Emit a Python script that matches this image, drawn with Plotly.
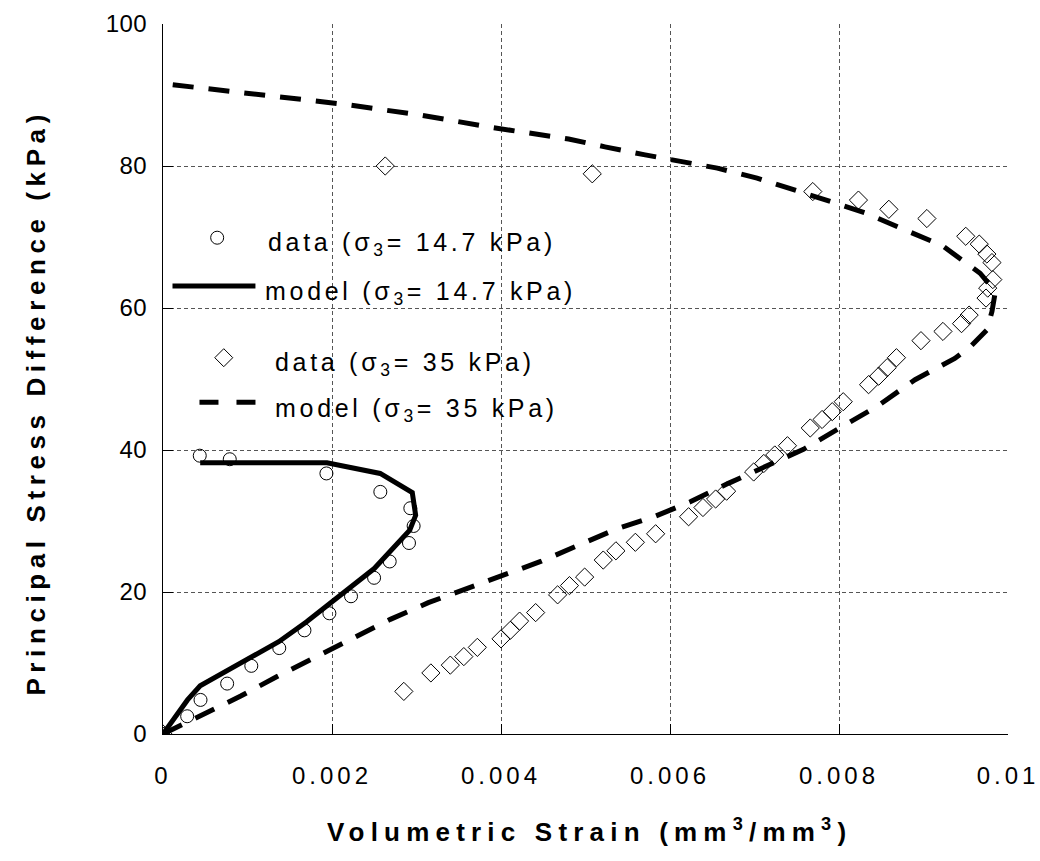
import plotly.graph_objects as go

# Measured triaxial response: volumetric strain vs principal stress difference
# Confining pressure sigma3 = 14.7 kPa, measured points
data147_strain = [0, 0.000286, 0.000444, 0.000759, 0.001045, 0.001376, 0.001674, 0.001969,
                  0.002225, 0.002498, 0.002683, 0.002911, 0.002966, 0.002927, 0.002572,
                  0.001934, 0.00079, 0.000435]
data147_stress = [0, 2.5, 4.8, 7.1, 9.6, 12.1, 14.6, 17.0, 19.4, 22.0, 24.3, 26.9, 29.3,
                  31.8, 34.1, 36.7, 38.7, 39.2]

# Model prediction, sigma3 = 14.7 kPa
model147_strain = [0, 0.00029, 0.00044, 0.00104, 0.00137, 0.00170, 0.00200, 0.00250,
                   0.00292, 0.00299, 0.00295, 0.00257, 0.00194, 0.00044]
model147_stress = [0, 4.8, 6.8, 10.7, 13.0, 15.8, 18.6, 23.3, 28.7, 30.8, 34.0, 36.7,
                   38.2, 38.2]

# Confining pressure sigma3 = 35 kPa, measured points
data35_strain = [0, 0.00285, 0.00317, 0.00340, 0.00356, 0.00372, 0.00400, 0.00411, 0.00422,
                 0.00441, 0.00467, 0.00481, 0.00499, 0.00521, 0.00536, 0.00559, 0.00583,
                 0.00622, 0.00639, 0.00654, 0.00667, 0.00699, 0.00711, 0.00724, 0.00739,
                 0.00766, 0.00780, 0.00792, 0.00805, 0.00835, 0.00847, 0.00857, 0.00868,
                 0.00897, 0.00923, 0.00945, 0.00954, 0.00974, 0.00976, 0.00982, 0.00981,
                 0.00975, 0.00966, 0.00950, 0.00904, 0.00859, 0.00823, 0.00769, 0.00508,
                 0.00263]
data35_stress = [0, 6.0, 8.6, 9.7, 10.9, 12.2, 13.4, 14.6, 15.9, 17.1, 19.6, 20.9, 22.1,
                 24.5, 25.8, 27.0, 28.2, 30.6, 31.9, 33.1, 34.2, 36.9, 38.1, 39.3, 40.6,
                 43.1, 44.3, 45.4, 46.8, 49.2, 50.4, 51.6, 53.0, 55.4, 56.7, 57.8, 59.0,
                 61.4, 62.8, 64.0, 66.4, 67.6, 69.0, 70.1, 72.6, 73.9, 75.2, 76.4, 78.9,
                 80.0]

# Model prediction, sigma3 = 35 kPa
model35_strain = [0, 0.00046, 0.00092, 0.00135, 0.00180, 0.00224, 0.00269, 0.00314,
                  0.00359, 0.00405, 0.00447, 0.00492, 0.00535, 0.00583, 0.00624, 0.00669,
                  0.00713, 0.00758, 0.00801, 0.00847, 0.00890, 0.00937, 0.00955, 0.00975,
                  0.00981, 0.00985, 0.00967, 0.00922, 0.00878, 0.00833, 0.00790, 0.00746,
                  0.00703, 0.00656, 0.00612, 0.00569, 0.00523, 0.00480, 0.00391, 0.00303,
                  0.00214, 0.00125, 0.00036, 0]
model35_stress = [0, 2.7, 5.35, 8.1, 10.75, 13.5, 16.15, 18.5, 20.4, 22.4, 24.3, 26.6,
                  28.8, 30.7, 32.7, 35.3, 37.6, 40.1, 43.1, 46.3, 49.9, 52.9, 54.5, 56.9,
                  59.5, 62.3, 64.9, 68.8, 71.0, 73.3, 75.0, 76.6, 78.3, 79.7, 80.6, 81.6,
                  82.7, 83.8, 85.4, 87.2, 88.7, 89.9, 91.0, 91.6]

x_ticks = [0, 0.002, 0.004, 0.006, 0.008, 0.01]
x_ticktext = ["0", "0.002", "0.004", "0.006", "0.008", "0.01"]
y_ticks = [0, 20, 40, 60, 80, 100]
y_ticktext = ["0", "20", "40", "60", "80", "100"]

legend_labels = [
    "data (σ<sub>3</sub>= 14.7 kPa)",
    "model (σ<sub>3</sub>= 14.7 kPa)",
    "data (σ<sub>3</sub>= 35 kPa)",
    "model (σ<sub>3</sub>= 35 kPa)",
]

FONT = "Liberation Sans, Arial, sans-serif"

# plot-area frame in pixels, used to place the in-plot key
L, R, T, B = 162.5, 1008.0, 24.0, 734.0


def px(xp):
    return (xp - L) / (R - L)


def py(yp):
    return (B - yp) / (B - T)


def spaced(text, gap):
    return f"<span style='letter-spacing:{gap}px'>{text}</span>"


fig = go.Figure()

fig.add_trace(go.Scatter(
    x=model35_strain, y=model35_stress, mode="lines",
    line=dict(color="black", width=5, dash="21px,15px"),
    showlegend=False, name="model (σ3 = 35 kPa)"))
fig.add_trace(go.Scatter(
    x=data35_strain, y=data35_stress, mode="markers",
    marker=dict(symbol="diamond-open", size=14, color="black", line=dict(width=1)),
    showlegend=False, name="data (σ3 = 35 kPa)"))
fig.add_trace(go.Scatter(
    x=model147_strain, y=model147_stress, mode="lines",
    line=dict(color="black", width=5),
    showlegend=False, name="model (σ3 = 14.7 kPa)"))
fig.add_trace(go.Scatter(
    x=data147_strain, y=data147_stress, mode="markers",
    marker=dict(symbol="circle-open", size=13, color="black", line=dict(width=1)),
    showlegend=False, name="data (σ3 = 14.7 kPa)"))

# key: symbols
shapes = [
    dict(type="circle", xref="paper", yref="paper",
         x0=px(210.2), x1=px(223.2), y0=py(244.2), y1=py(231.2),
         line=dict(color="black", width=1)),
    dict(type="line", xref="paper", yref="paper",
         x0=px(172), x1=px(255), y0=py(286), y1=py(286),
         line=dict(color="black", width=5)),
    dict(type="path", xref="paper", yref="paper",
         path="M {0},{1} L {2},{3} L {4},{5} L {6},{7} Z".format(
             px(214.3), py(357.7), px(223.3), py(348.7),
             px(232.3), py(357.7), px(223.3), py(366.7)),
         line=dict(color="black", width=1)),
    dict(type="line", xref="paper", yref="paper",
         x0=px(199), x1=px(261), y0=py(402.3), y1=py(402.3),
         line=dict(color="black", width=5, dash="19px,18px")),
]

key_pos = [(266, 241), (263, 290), (273, 361), (273, 407)]
annotations = []
for (xp, yp), label in zip(key_pos, legend_labels):
    annotations.append(dict(
        xref="paper", yref="paper", x=px(xp), y=py(yp),
        xanchor="left", yanchor="middle", yshift=-3,
        text=spaced(label, 3.7), showarrow=False,
        font=dict(family=FONT, size=25, color="black")))

# axis titles
annotations.append(dict(
    xref="paper", yref="paper", x=px(589), y=py(830),
    xanchor="center", yanchor="middle", showarrow=False,
    text=spaced("Volumetric Strain (mm<sup>3</sup>/mm<sup>3</sup>)", 6.2),
    font=dict(family=FONT, size=26, color="black", weight="bold")))
annotations.append(dict(
    xref="paper", yref="paper", x=px(35), y=py(402),
    xanchor="center", yanchor="middle", showarrow=False, textangle=-90,
    text=spaced("Principal Stress Difference (kPa)", 5.6),
    font=dict(family=FONT, size=26, color="black", weight="bold")))

axis_common = dict(
    showgrid=True, gridcolor="#555555", gridwidth=1, griddash="4px,3px",
    showline=True, linecolor="black", linewidth=1, mirror=False,
    ticks="inside", ticklen=10, tickcolor="black", tickwidth=1,
    zeroline=False, automargin=False,
    tickfont=dict(family=FONT, size=24, color="black"),
)

fig.update_layout(
    width=1040, height=861,
    margin=dict(l=L, r=1040 - R, t=T, b=861 - B, autoexpand=False),
    paper_bgcolor="white", plot_bgcolor="white",
    xaxis=dict(range=[0, 0.01], tickvals=x_ticks,
               ticktext=[spaced(t, 4) for t in x_ticktext],
               ticklabelstandoff=20, **axis_common),
    yaxis=dict(range=[0, 100], tickvals=y_ticks,
               ticktext=[spaced(t, 0.5) for t in y_ticktext],
               ticklabelstandoff=10, **axis_common),
    shapes=shapes, annotations=annotations, showlegend=False,
)

fig.write_html("out.html", config={"displayModeBar": False, "staticPlot": True})
